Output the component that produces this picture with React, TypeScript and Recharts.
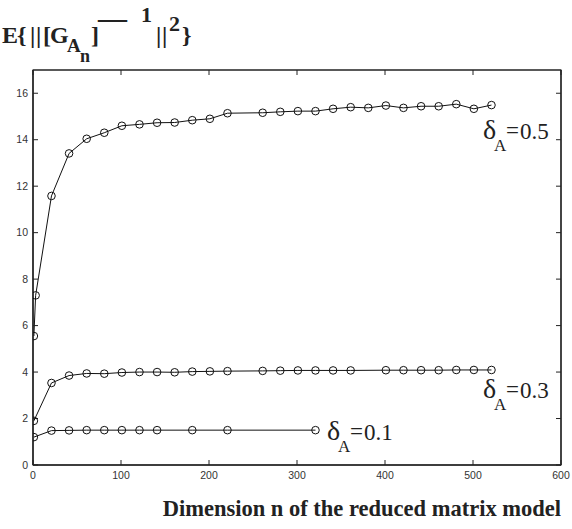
import { LineChart, Line, XAxis, YAxis, ReferenceArea } from 'recharts';

// n values (matrix dimension) and E{||[G]^-1||^2} for each delta_A
const nHigh = [1, 3, 21, 41, 61, 81, 101, 121, 141, 161, 181, 201, 221, 261, 281, 301, 321, 341, 361, 381, 401, 421, 441, 461, 481, 501, 521];
const eHigh = [5.55, 7.3, 11.58, 13.41, 14.04, 14.3, 14.6, 14.66, 14.73, 14.74, 14.84, 14.9, 15.14, 15.16, 15.2, 15.23, 15.23, 15.33, 15.4, 15.37, 15.47, 15.37, 15.44, 15.44, 15.53, 15.33, 15.49];

const nMid = [1, 21, 41, 61, 81, 101, 121, 141, 161, 181, 201, 221, 261, 281, 301, 321, 341, 361, 401, 421, 441, 461, 481, 501, 521];
const eMid = [1.9, 3.53, 3.85, 3.94, 3.93, 3.98, 4.0, 4.0, 3.99, 4.02, 4.03, 4.04, 4.05, 4.06, 4.07, 4.07, 4.07, 4.07, 4.08, 4.08, 4.08, 4.08, 4.09, 4.09, 4.09];

const nLow = [1, 21, 41, 61, 81, 101, 121, 141, 181, 221, 321];
const eLow = [1.2, 1.48, 1.49, 1.5, 1.5, 1.5, 1.5, 1.5, 1.5, 1.5, 1.5];

const deltas = ['0.5', '0.3', '0.1'];
const xTicks = [0, 100, 200, 300, 400, 500, 600];
const yTicks = [0, 2, 4, 6, 8, 10, 12, 14, 16];
const xDomain = [0, 600];
const yDomain = [0, 17];

const toPoints = (ns: number[], vs: number[]) => ns.map((n, i) => ({ n, v: vs[i] }));

const series = [toPoints(nHigh, eHigh), toPoints(nMid, eMid), toPoints(nLow, eLow)];

const serif = '"Liberation Serif", "Times New Roman", serif';
const sans = '"Liberation Sans", Arial, sans-serif';
const ink = '#222';

function DeltaLabel({ x, y, value }: { x: number; y: number; value: string }) {
  return (
    <g fontFamily={serif} fill={ink}>
      <text x={x} y={y} fontSize={28}>δ</text>
      <text x={x + 11} y={y + 12} fontSize={17}>A</text>
      <text x={x + 23} y={y - 1} fontSize={23}>=</text>
      <text x={x + 37} y={y} fontSize={23}>{value}</text>
    </g>
  );
}

const noTick = () => <g />;

export default function App() {
  return (
    <div style={{ position: 'absolute', left: 0, top: 0, width: 572, height: 529, background: '#fff' }}>
      <LineChart width={572} height={529} margin={{ top: 69, right: 10, bottom: 0, left: 0 }}>
        <XAxis
          xAxisId="b"
          type="number"
          dataKey="n"
          domain={xDomain}
          ticks={xTicks}
          interval={0}
          height={64}
          tickSize={-5}
          tickMargin={12}
          axisLine={{ stroke: ink, strokeWidth: 1.4 }}
          tickLine={{ stroke: ink }}
          tick={{ fontSize: 10.5, fill: '#333', fontFamily: sans }}
          allowDataOverflow
        />
        <XAxis
          xAxisId="t"
          orientation="top"
          type="number"
          dataKey="n"
          domain={xDomain}
          ticks={xTicks}
          interval={0}
          height={1}
          tickSize={-5}
          axisLine={{ stroke: ink, strokeWidth: 1.2 }}
          tickLine={{ stroke: ink }}
          tick={noTick}
          allowDataOverflow
        />
        <YAxis
          yAxisId="l"
          type="number"
          domain={yDomain}
          ticks={yTicks}
          interval={0}
          width={33}
          tickSize={-5}
          tickMargin={10}
          axisLine={{ stroke: ink, strokeWidth: 1.4 }}
          tickLine={{ stroke: ink }}
          tick={{ fontSize: 10.5, fill: '#333', fontFamily: sans }}
          allowDataOverflow
        />
        <YAxis
          yAxisId="r"
          orientation="right"
          type="number"
          domain={yDomain}
          ticks={yTicks}
          interval={0}
          width={1}
          tickSize={-5}
          axisLine={{ stroke: ink, strokeWidth: 1.2 }}
          tickLine={{ stroke: ink }}
          tick={noTick}
          allowDataOverflow
        />
        <ReferenceArea
          xAxisId="b"
          yAxisId="l"
          x1={xDomain[0]}
          x2={xDomain[1]}
          y1={yDomain[0]}
          y2={yDomain[1]}
          fill="none"
          stroke={ink}
          strokeWidth={1.2}
          ifOverflow="visible"
        />
        {series.map((pts, i) => (
          <Line
            key={deltas[i]}
            xAxisId="b"
            yAxisId="l"
            data={pts}
            dataKey="v"
            type="linear"
            stroke="#111"
            strokeWidth={1}
            dot={{ r: 3.8, stroke: '#111', strokeWidth: 1, fill: 'none' }}
            isAnimationActive={false}
          />
        ))}
      </LineChart>

      <svg width={572} height={529} style={{ position: 'absolute', left: 0, top: 0, pointerEvents: 'none' }}>
        <g fontFamily={serif} fontWeight="bold" fill={ink}>
          <text x={2} y={43} fontSize={24}>E</text>
          <text x={17} y={43} fontSize={24}>{'{'}</text>
          <text x={30} y={43} fontSize={24}>|</text>
          <text x={36} y={43} fontSize={24}>|</text>
          <text x={43} y={43} fontSize={24}>[</text>
          <text x={50} y={43} fontSize={24}>G</text>
          <text x={67} y={52} fontSize={19}>A</text>
          <text x={80} y={62} fontSize={18}>n</text>
          <text x={91} y={43} fontSize={24}>]</text>
          <text x={98} y={28} fontSize={29}>—</text>
          <text x={141} y={22} fontSize={22}>1</text>
          <text x={156} y={43} fontSize={24}>|</text>
          <text x={162} y={43} fontSize={24}>|</text>
          <text x={169} y={31} fontSize={22}>2</text>
          <text x={182} y={43} fontSize={24}>{'}'}</text>
          <text x={561} y={516} fontSize={22.5} textAnchor="end">
            Dimension n of the reduced matrix model
          </text>
        </g>
        <DeltaLabel x={483} y={139} value={deltas[0]} />
        <DeltaLabel x={483} y={398} value={deltas[1]} />
        <DeltaLabel x={327} y={440} value={deltas[2]} />
      </svg>
    </div>
  );
}
